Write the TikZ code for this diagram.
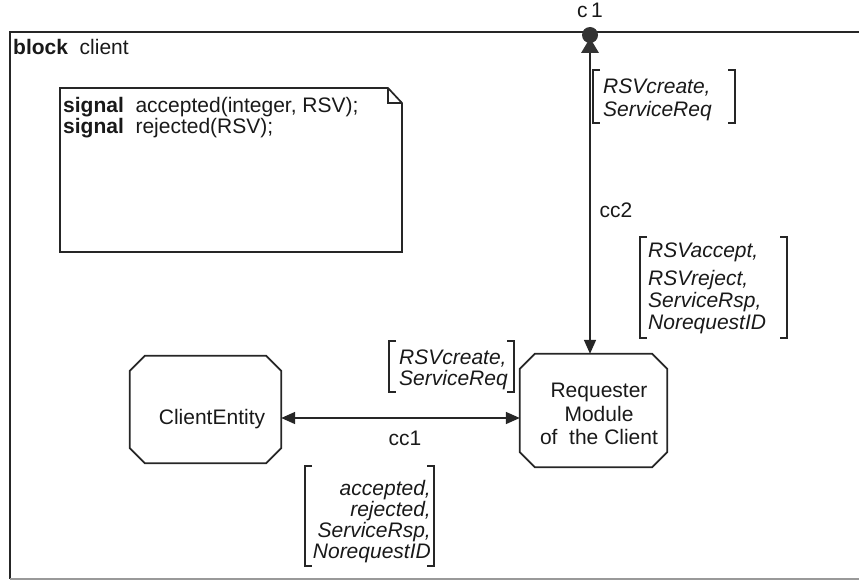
\documentclass[tikz,border=0pt]{standalone}
\usepackage{fontspec}
\setmainfont{Liberation Sans}
\usetikzlibrary{arrows.meta,calc}
\begin{document}
\begin{tikzpicture}[x=1pt,y=-1pt,
  txt/.style={inner sep=0pt, text=black!90, font=\fontsize{21}{22}\selectfont},
  it/.style={inner sep=0pt, text=black!90, font=\fontsize{21}{22}\selectfont\itshape},
  ln/.style={line width=1.7pt, draw=black!85},
  br/.style={line width=1.4pt, draw=black!85},
  tipb/.style={-{Triangle[length=14pt,width=12pt]}},
  tipbb/.style={{Triangle[length=14pt,width=12pt]}-{Triangle[length=14pt,width=12pt]}},
  boxn/.style={draw=none, inner sep=0pt, minimum width=#1},
]
\useasboundingbox (0,0) rectangle (859,583);

% block frame
\draw[ln] (859,32) -- (10,32) -- (10,579);
\draw[line width=1.6pt, draw=black!40] (10,579) -- (859,579);
\node[txt, anchor=base west] (blk) at (13,55) {\textbf{block}\ \ client};

% text symbol (note)
\draw[ln] (60,88) -- (388,88) -- (402,103) -- (402,252) -- (60,252) -- cycle;
\draw[ln] (388,88) -- (388,103) -- (402,103);
\node[txt, anchor=base west, align=left, font=\fontsize{21}{18}\selectfont] (decl) at (63,133)
  {\textbf{signal}\ \ accepted(integer, RSV);\\ \textbf{signal}\ \ rejected(RSV);};

% ClientEntity
\node[boxn=151pt, minimum height=107pt] (ce) at (205.5,409.5) {};
\draw[ln] ($(ce.north west)+(15,0)$) -- ($(ce.north east)+(-15,0)$) -- ($(ce.north east)+(0,15)$)
  -- ($(ce.south east)+(0,-15)$) -- ($(ce.south east)+(-15,0)$) -- ($(ce.south west)+(15,0)$)
  -- ($(ce.south west)+(0,-15)$) -- ($(ce.north west)+(0,15)$) -- cycle;
\node[txt, anchor=base] (cet) at (212,424) {ClientEntity};

% Requester
\node[boxn=147pt, minimum height=113pt] (rq) at (593.5,410.5) {};
\draw[ln] ($(rq.north west)+(15,0)$) -- ($(rq.north east)+(-15,0)$) -- ($(rq.north east)+(0,15)$)
  -- ($(rq.south east)+(0,-15)$) -- ($(rq.south east)+(-15,0)$) -- ($(rq.south west)+(15,0)$)
  -- ($(rq.south west)+(0,-15)$) -- ($(rq.north west)+(0,15)$) -- cycle;
\node[txt, align=center, font=\fontsize{21}{23.5}\selectfont] (rqt) at (599,414) {Requester\\Module\\of\ \ the Client};

% gate c1
\coordinate (c1) at (590,35);
\node[txt, anchor=base] (c1l) at (590,18) {c\,1};
\draw[ln, tipb] (c1) -- (c1 |- rq.north);
\fill[black!80] (c1) circle (8);
\fill[black!80] (581,53) -- (599,53) -- (590,38) -- cycle;
\node[txt, anchor=base] (cc2l) at (616,217) {cc2};

% channel cc1
\coordinate (a1) at (0,418);
\draw[ln, tipbb] (ce.east |- a1) -- (rq.west |- a1);
\node[txt, anchor=base] (cc1l) at (405,445) {cc1};

% signal list 1
\node[it, anchor=base west, align=left, font=\fontsize{21}{23}\selectfont\itshape] (l1) at (603,117) {RSVcreate,\\ServiceReq};
\draw[br] (600,70) -- (593,70) -- (593,123) -- (600,123);
\draw[br] (728,70) -- (735,70) -- (735,123) -- (728,123);

% signal list 2
\node[it, anchor=base west, align=left, font=\fontsize{21}{22}\selectfont\itshape] (l2) at (648,329) {RSVaccept,\\[6pt]RSVreject,\\ServiceRsp,\\NorequestID};
\draw[br] (647,237) -- (640,237) -- (640,338) -- (647,338);
\draw[br] (780,237) -- (787,237) -- (787,338) -- (780,338);

% signal list 3
\node[it, anchor=base west, align=left, font=\fontsize{21}{21}\selectfont\itshape] (l3) at (399,385) {RSVcreate,\\ServiceReq};
\draw[br] (396,341) -- (389,341) -- (389,392) -- (396,392);
\draw[br] (507,341) -- (514,341) -- (514,392) -- (507,392);

% signal list 4
\node[it, anchor=base east, align=right, font=\fontsize{21}{21}\selectfont\itshape] (l4) at (431,558) {accepted,\\rejected,\\ServiceRsp,\\NorequestID};
\draw[br] (312,466) -- (305,466) -- (305,566) -- (312,566);
\draw[br] (427,466) -- (434,466) -- (434,566) -- (427,566);
\end{tikzpicture}
\end{document}
